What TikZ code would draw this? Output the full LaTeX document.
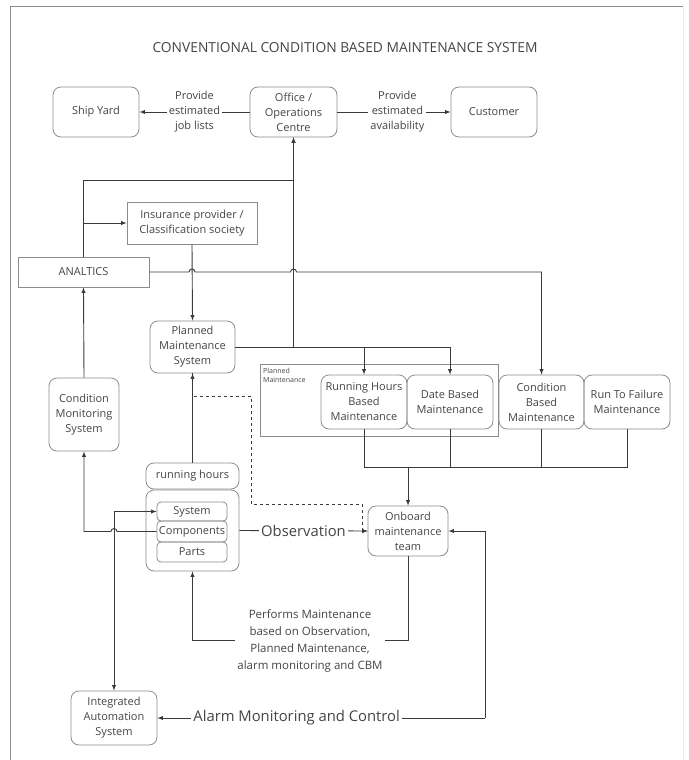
\documentclass[tikz,border=0pt]{standalone}
\usepackage{fontspec}
\setmainfont{Open Sans}
\definecolor{txtgray}{HTML}{444444}
\definecolor{boxgray}{HTML}{8C8C8C}
\definecolor{linegray}{HTML}{3A3A3A}
\begin{document}
\begin{tikzpicture}[x=1pt, y=-1pt,
  every node/.style={text=txtgray, font=\fontsize{11}{15}\selectfont},
  rbox/.style={draw=boxgray, line width=0.8pt, rounded corners=8pt, align=center, inner sep=1pt},
  sbox/.style={draw=boxgray, line width=0.8pt, align=center, inner sep=1pt},
  conn/.style={draw=linegray, line width=0.9pt},
  arr/.style={conn, -latex},
  lbl/.style={fill=white, align=center, inner sep=2pt}]
\useasboundingbox (0,0) rectangle (688,760);
\draw[boxgray, line width=0.9pt] (10,760) -- (10,6) -- (683,6);
\draw[black!8, line width=0.8pt] (683,6) -- (683,760);

\node (title) at (345,48) {\fontsize{13.8}{16}\selectfont CONVENTIONAL CONDITION BASED MAINTENANCE SYSTEM};

\node[rbox, minimum width=86pt, minimum height=50pt] (shipyard) at (96,112) {Ship Yard};
\node[rbox, minimum width=87pt, minimum height=50pt] (office) at (293.5,112) {Office /\\Operations\\Centre};
\node[rbox, minimum width=86pt, minimum height=50pt] (customer) at (494,112) {Customer};

\node[sbox, minimum width=130pt, minimum height=42pt] (insurance) at (192,223) {Insurance provider /\\Classification society};
\node[sbox, minimum width=131pt, minimum height=30pt] (analtics) at (83.5,272) {ANALTICS};
\node[rbox, minimum width=85pt, minimum height=52pt] (pms) at (192.5,347) {Planned\\Maintenance\\System};
\node[rbox, minimum width=70pt, minimum height=73pt] (cms) at (84,414.5) {Condition\\Monitoring\\System};

\node[sbox, minimum width=238pt, minimum height=72pt] (pmgroup) at (379,400) {};
\node[anchor=north west, align=left, inner sep=0pt, font=\fontsize{7}{9}\selectfont] (pmlabel) at (263,368) {Planned\\Maintenance};
\node[rbox, minimum width=86pt, minimum height=54pt] (rhbm) at (364,402) {Running Hours\\Based\\Maintenance};
\node[rbox, minimum width=86pt, minimum height=54pt] (dbm) at (450,402) {Date Based\\Maintenance};
\node[rbox, minimum width=85pt, minimum height=54pt] (cbm) at (541.5,402) {Condition\\Based\\Maintenance};
\node[rbox, minimum width=86pt, minimum height=54pt] (rtf) at (627,402) {Run To Failure\\Maintenance};

\node[rbox, minimum width=93pt, minimum height=26pt] (runhours) at (192.5,476) {running hours};
\node[rbox, minimum width=93pt, minimum height=81pt] (group) at (192.5,530.5) {};
\node[rbox, rounded corners=4pt, minimum width=70pt, minimum height=19pt] (system) at (192,511.5) {System};
\node[rbox, rounded corners=4pt, minimum width=70pt, minimum height=21pt] (components) at (192,531.5) {Components};
\node[rbox, rounded corners=4pt, minimum width=70pt, minimum height=20pt] (parts) at (192,552) {Parts};

\node[rbox, minimum width=80pt, minimum height=50pt] (onboard) at (408,531) {Onboard\\maintenance\\team};
\node[rbox, minimum width=86pt, minimum height=54pt] (ias) at (114,718) {Integrated\\Automation\\System};

\coordinate (mbus) at (364,467);
\coordinate (pbus) at (408,640);
\coordinate (abus) at (485,718);

% top row
\draw[arr] (office.west) -- (shipyard.east) node[lbl, midway] {Provide\\estimated\\job lists};
\draw[arr] (office.east) -- (customer.west) node[lbl, pos=0.53] {Provide\\estimated\\availability};

% analytics links
\draw[arr] (analtics.north) |- ([yshift=-43pt]office.south) -- (office.south);
\draw[arr] (analtics.north |- insurance.west) -- (insurance.west);
\draw[arr] (insurance.south) -- (pms.north);
\draw[arr] (analtics.east) -- (189,272) arc[start angle=180, end angle=0, radius=3pt]
  -- (290.5,272) arc[start angle=180, end angle=0, radius=3pt] -- (541.5,272) -- (cbm.north);
\draw[arr] (cms.north) -- (analtics.south);

% planned maintenance
\draw[arr] (pms.east) -| (office.south);
\draw[arr] (pms.east) -| (rhbm.north);
\draw[arr] (pms.east) -| (dbm.north);
\draw[arr] (runhours.north) -- (pms.south);
\draw[arr, dashed] (pms.south) -- (192.5,396) -- (251,396) -- (251,504) -- (362,504) |- (onboard.west);

% into the team
\draw[conn] (rhbm.south) |- (mbus -| rtf.south) -- (rtf.south);
\draw[conn] (dbm.south) -- (mbus -| dbm.south);
\draw[conn] (cbm.south) -- (mbus -| cbm.south);
\draw[arr] (mbus -| onboard.north) -- (onboard.north);
\draw[arr] (group.east) -- (onboard.west) node[lbl, midway, font=\fontsize{14.8}{17}\selectfont] {Observation};

% monitoring
\draw[arr] (components.west) -- (117,531.5) arc[start angle=0, end angle=180, radius=3pt] -- (84,531.5) -- (cms.south);
\draw[latex-latex, conn] (ias.north) |- (system.west);

% maintenance and alarms
\draw[arr] (onboard.south) -- (pbus) -| (group.south);
\node[lbl, font=\fontsize{11.5}{17}\selectfont] (perftxt) at (310,640.5) {Performs Maintenance\\based on Observation,\\Planned Maintenance,\\alarm monitoring and CBM};
\draw[arr] (abus) |- (onboard.east);
\draw[arr] (abus) -- (ias.east) node[lbl, pos=0.575, font=\fontsize{14.8}{17}\selectfont] {Alarm Monitoring and Control};
\end{tikzpicture}
\end{document}
